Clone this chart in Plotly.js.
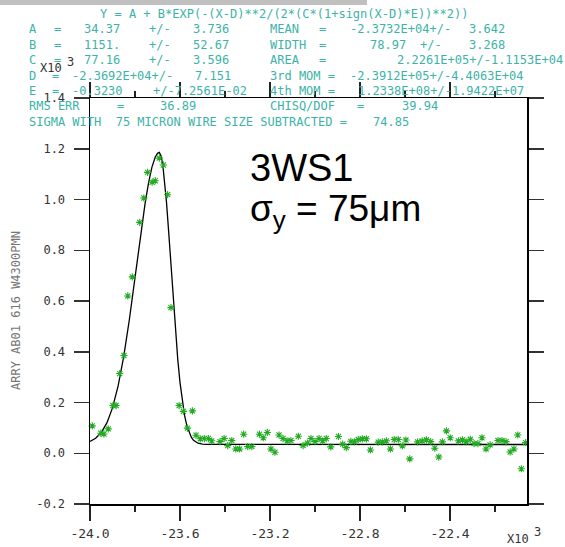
<!DOCTYPE html>
<html><head><meta charset="utf-8">
<script src="https://cdn.plot.ly/plotly-3.0.1.min.js"></script>
<style>html,body{margin:0;padding:0;background:#fff}#chart{width:565px;height:547px}</style>
</head><body><div id="chart"></div>
<script>
// Measured wire-scan samples (x10^3 units)
const dataX = [-23.990,-23.952,-23.938,-23.919,-23.898,-23.884,-23.868,-23.849,-23.832,-23.812,
  -23.779,-23.761,-23.744,-23.724,-23.710,-23.692,-23.674,-23.655,-23.640,-23.604,
  -23.585,-23.567,-23.545,-23.529,-23.510,-23.492,-23.474,-23.459,-23.422,-23.404,
  -23.388,-23.370,-23.352,-23.335,-23.317,-23.299,-23.281,-23.247,-23.230,-23.212,
  -23.196,-23.178,-23.160,-23.142,-23.124,-23.107,-23.074,-23.053,-23.034,-23.018,
  -23.000,-22.982,-22.966,-22.950,-22.930,-22.896,-22.877,-22.861,-22.841,-22.825,
  -22.808,-22.790,-22.772,-22.754,-22.719,-22.701,-22.683,-22.665,-22.648,-22.630,
  -22.612,-22.596,-22.579,-22.544,-22.524,-22.505,-22.486,-22.468,-22.450,-22.434,
  -22.416,-22.399,-22.363,-22.345,-22.328,-22.310,-22.293,-22.276,-22.258,-22.240,
  -22.222,-22.187,-22.169,-22.151,-22.133,-22.116,-22.099,-22.083,-22.064];
const dataY = [0.108,0.079,0.076,0.096,0.188,0.188,0.314,0.385,0.620,0.695,
  0.910,1.006,1.107,1.068,1.074,1.163,1.136,1.019,0.574,0.188,
  0.165,0.099,0.167,0.071,0.057,0.058,0.058,0.049,0.046,0.058,
  0.030,0.050,0.017,0.017,0.075,0.026,0.026,0.075,0.061,0.082,
  0.017,0.004,0.072,0.058,0.049,0.050,0.067,0.030,0.040,0.058,
  0.046,0.058,0.049,0.058,0.025,0.066,0.036,0.022,0.047,0.045,
  0.054,0.057,0.057,0.013,0.044,0.045,0.049,0.017,0.054,0.054,
  0.029,0.052,-0.022,0.045,0.049,0.053,0.046,0.020,-0.015,0.045,
  0.088,0.061,0.049,0.053,0.045,0.055,0.038,0.038,0.061,0.017,
  0.033,0.050,0.050,0.046,0.005,0.017,0.072,-0.061,0.042];

// Fitted curve as drawn
const fitX = [-24.0,-23.975,-23.95,-23.925,-23.9,-23.875,-23.85,-23.825,-23.8,-23.785,-23.77,-23.755,
  -23.74,-23.725,-23.71,-23.70,-23.692,-23.684,-23.676,-23.668,-23.66,-23.65,-23.64,-23.63,-23.62,
  -23.61,-23.60,-23.59,-23.58,-23.57,-23.56,-23.55,-23.54,-23.53,-23.52,-23.50,-23.48,-22.058];
const fitY = [0.0466,0.0590,0.0816,0.1195,0.1788,0.2652,0.3819,0.5270,0.6921,0.7945,0.8941,0.9858,
  1.0649,1.1268,1.1676,1.1819,1.1854,1.1720,1.1327,1.0701,0.9885,0.8675,0.7357,0.6035,0.4796,
  0.3701,0.2785,0.2055,0.1500,0.1097,0.0817,0.0630,0.0511,0.0438,0.0395,0.0357,0.0347,0.0344];

const xTickVals = [-24.0,-23.6,-23.2,-22.8,-22.4];
const xTickText = ['-24.0','-23.6','-23.2','-22.8','-22.4'];
const yTickVals = [-0.2,0.0,0.2,0.4,0.6,0.8,1.0,1.2,1.4];
const yTickText = ['-0.2','0.0','0.2','0.4','0.6','0.8','1.0','1.2','1.4'];

// Header fit-result text: [text, left pixel]
const headerRows = [
  [['Y = A + B*EXP(-(X-D)**2/(2*(C*(1+sign(X-D)*E))**2))',98.3]],
  [['A',26.7],['=',51.7],['34.37',81.7],['+/-',146.7],['3.736',190.7],['MEAN',268.3],['=',316.7],['-2.3732E+04+/-',348.3],['3.642',466.7]],
  [['B',26.7],['=',51.7],['1151.',81.7],['+/-',146.7],['52.67',190.7],['WIDTH',268.3],['=',316.7],['78.97',368.3],['+/-',418.3],['3.268',466.7]],
  [['C',26.7],['=',51.7],['77.16',81.7],['+/-',146.7],['3.596',190.7],['AREA',268.3],['=',316.7],['2.2261E+05+/-1.1153E+04',395]],
  [['D',26.7],['=',50],['-2.3692E+04+/-',70],['7.151',193.3],['3rd MOM =',268.3],['-2.3912E+05+/-4.4063E+04',348.3]],
  [['E',26.7],['=',50],['-0.3230',70],['+/-7.2561E-02',151],['4th MOM =',268.3],['1.2338E+08+/-1.9422E+07',356]],
  [['RMS ERR',26.7],['=',115],['36.89',158.3],['CHISQ/DOF',268.3],['=',355],['39.94',400]],
  [['SIGMA WITH  75 MICRON WIRE SIZE SUBTRACTED =',26.7],['74.85',370.7]]
];
const headerY = [14,29.4,44.8,60.2,75.6,91,106.4,121.8];

const W=565,H=547,L=90,R=38,T=98,B=43;
const pw=W-L-R, ph=H-T-B;
const px = x => (x-L)/pw;
const py = y => (H-B-y)/ph;
const mono = '"DejaVu Sans Mono", "Liberation Mono", monospace';
const teal = '#3db3a8';

const annotations = [];
headerRows.forEach((row,i)=>{
  row.forEach(([t,x])=>{
    annotations.push({xref:'paper',yref:'paper',x:px(x),y:py(headerY[i]),xanchor:'left',yanchor:'middle',
      text:t,showarrow:false,font:{family:mono,size:12,color:teal}});
  });
});
// exponent labels
annotations.push({xref:'paper',yref:'paper',x:px(51),y:py(68),xanchor:'center',yanchor:'middle',text:'X10',showarrow:false,font:{family:mono,size:12,color:'#333'}});
annotations.push({xref:'paper',yref:'paper',x:px(70.5),y:py(62),xanchor:'center',yanchor:'middle',text:'3',showarrow:false,font:{family:mono,size:12,color:'#333'}});
annotations.push({xref:'paper',yref:'paper',x:px(518),y:py(539),xanchor:'center',yanchor:'middle',text:'X10',showarrow:false,font:{family:mono,size:12,color:'#333'}});
annotations.push({xref:'paper',yref:'paper',x:px(537),y:py(532),xanchor:'center',yanchor:'middle',text:'3',showarrow:false,font:{family:mono,size:12,color:'#333'}});
// y axis title
annotations.push({xref:'paper',yref:'paper',x:px(16),y:py(311),xanchor:'center',yanchor:'middle',text:'ARRY AB01 616 W4300PMN',textangle:-90,showarrow:false,font:{family:mono,size:12,color:'#777'}});
// big labels
annotations.push({xref:'paper',yref:'paper',x:px(248),y:py(168),xanchor:'left',yanchor:'middle',text:'3WS1',showarrow:false,font:{family:'"Liberation Sans", Arial, sans-serif',size:38,color:'#000'}});
annotations.push({xref:'paper',yref:'paper',x:px(248),y:py(211),xanchor:'left',yanchor:'middle',text:'σ<sub>y</sub> = 75μm',showarrow:false,font:{family:'"Liberation Sans", Arial, sans-serif',size:37,color:'#000'}});

const traces = [
  {x:fitX,y:fitY,mode:'lines',line:{color:'#000',width:1.3},hoverinfo:'skip',showlegend:false},
  {x:dataX,y:dataY,mode:'markers',marker:{symbol:'asterisk-open',size:6,color:'#22aa22',line:{color:'#22aa22',width:1.1}},showlegend:false,cliponaxis:false}
];

const layout = {
  width:W,height:H,margin:{l:L,r:R,t:T,b:B,pad:0},
  paper_bgcolor:'#fff',plot_bgcolor:'#fff',showlegend:false,
  font:{family:mono,size:12,color:'#333'},
  xaxis:{range:[-24.0,-22.058],tickmode:'array',tickvals:xTickVals,ticktext:xTickText,
    ticks:'outside',ticklen:15,tickwidth:1.5,tickcolor:'#222',showline:true,linecolor:'#000',linewidth:1.5,
    mirror:'ticks',showgrid:false,zeroline:false,ticklabelstandoff:2,
    minor:{tickmode:'linear',tick0:-24.0,dtick:0.2,ticks:'outside',ticklen:6,tickwidth:1.5,tickcolor:'#222',showgrid:false},
    tickfont:{family:mono,size:13,color:'#333'}},
  yaxis:{range:[-0.2,1.4],tickmode:'array',tickvals:yTickVals,ticktext:yTickText,
    ticks:'outside',ticklen:15,tickwidth:1.5,tickcolor:'#333',showline:true,linecolor:'#000',linewidth:1.5,
    mirror:'ticks',showgrid:false,zeroline:false,ticklabelstandoff:6,
    tickfont:{family:mono,size:12,color:'#333'}},
  shapes:[{type:'rect',xref:'paper',yref:'paper',layer:'above',x0:px(0),x1:px(367),y0:py(5),y1:py(0),fillcolor:'#c0c0c0',line:{width:0}}],
  annotations:annotations
};
Plotly.newPlot('chart',traces,layout,{displayModeBar:false,staticPlot:true});
</script>
</body></html>
